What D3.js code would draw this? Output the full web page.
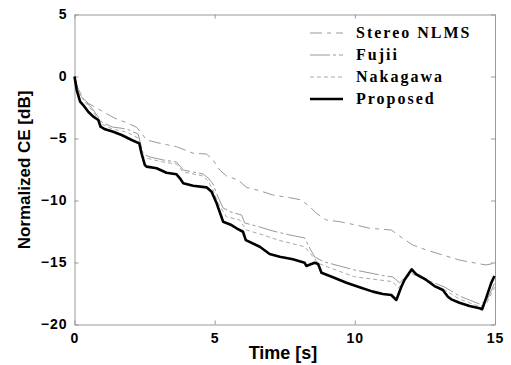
<!DOCTYPE html>
<html>
<head>
<meta charset="utf-8">
<script src="https://cdn.jsdelivr.net/npm/d3@7"></script>
<style>
html,body{margin:0;padding:0;background:#fff;}
svg{display:block;}
</style>
</head>
<body>
<svg id="chart" width="511" height="365"></svg>
<script>
// ---- data ----
const seriesNames = ["Stereo NLMS", "Fujii", "Nakagawa", "Proposed"];
const xTicks = [0, 5, 10, 15];
const yTicks = [-20, -15, -10, -5, 0, 5];

const stereoT = [0,0.14,0.49,0.91,1.44,1.86,2.22,2.39,2.57,3.05,3.64,4.23,4.71,4.94,5.18,5.42,5.84,6.13,6.61,7.08,7.68,8.09,8.39,8.63,8.98,9.46,10.05,10.53,11.30,11.71,12.07,12.55,13.26,13.73,14.33,14.68,14.98];
const stereoV = [0,-1.35,-2.16,-2.70,-3.37,-3.73,-4.10,-4.58,-5.12,-5.39,-5.66,-6.19,-6.25,-6.73,-7.54,-8.02,-8.35,-8.94,-9.21,-9.56,-9.77,-9.96,-10.5,-11.03,-11.57,-11.71,-11.98,-12.24,-12.38,-13.05,-13.59,-13.99,-14.48,-14.8,-15.06,-15.2,-15.06];

const fujiiT = [0,0.12,0.34,0.62,0.97,1.34,1.86,2.27,2.45,2.69,3.16,3.64,3.88,4.23,4.59,4.77,4.94,5.12,5.30,5.54,5.96,6.07,6.61,7.08,7.68,8.21,8.39,8.57,8.92,9.99,11.0,11.36,11.6,11.89,12.07,12.66,13.2,13.73,14.45,14.7,14.98];
const fujiiV = [0,-0.93,-1.90,-2.54,-3.67,-4.07,-4.23,-4.64,-6.25,-6.49,-6.73,-6.90,-7.54,-7.70,-7.86,-8.19,-8.67,-9.72,-10.6,-10.9,-11.17,-11.81,-12.14,-12.46,-12.78,-13.02,-13.83,-14.56,-14.96,-15.6,-16.05,-16.17,-16.65,-15.93,-15.69,-16.49,-16.98,-17.7,-18.35,-18.1,-16.7];

const nakaT = [0,0.12,0.34,0.62,0.97,1.34,1.86,2.27,2.45,2.69,3.16,3.64,3.88,4.23,4.59,4.77,4.94,5.12,5.42,5.89,6.13,6.73,7.26,8.21,8.51,8.69,9.16,9.99,11.36,11.54,11.84,12.01,12.66,13.2,13.73,14.45,14.7,14.98];
const nakaV = [0,-1.09,-1.98,-2.70,-3.83,-4.23,-4.48,-4.96,-6.49,-6.65,-6.9,-7.06,-7.70,-7.86,-8.02,-8.43,-9.15,-10.2,-11.31,-11.57,-12.38,-12.78,-13.19,-13.73,-14.53,-15.06,-15.47,-16.15,-16.55,-17.08,-16.27,-15.87,-16.6,-17.2,-17.95,-18.55,-18.3,-17.0];

const propT = [0,0.08,0.2,0.31,0.49,0.67,0.85,0.93,1.09,1.38,1.68,2.04,2.31,2.39,2.51,2.57,2.93,3.28,3.64,3.76,3.88,4.23,4.71,4.89,5.07,5.24,5.30,5.60,5.78,6.01,6.11,6.61,6.96,7.32,7.79,8.21,8.27,8.45,8.57,8.69,8.81,9.22,9.70,10.17,10.64,11.0,11.30,11.48,11.66,11.77,11.89,12.03,12.19,12.55,12.84,13.14,13.32,13.44,13.73,14.09,14.45,14.54,14.68,14.86,14.98];
const propV = [0,-1.09,-2.03,-2.3,-2.84,-3.24,-3.51,-4.05,-4.26,-4.45,-4.72,-5.12,-5.39,-6.19,-7.14,-7.27,-7.40,-7.76,-7.89,-8.21,-8.61,-8.81,-8.94,-9.29,-10.23,-11.31,-11.71,-11.98,-12.24,-12.52,-13.19,-13.73,-14.31,-14.53,-14.74,-15.02,-15.28,-15.12,-15.02,-15.12,-15.82,-16.19,-16.63,-17.0,-17.35,-17.54,-17.62,-18.02,-16.95,-16.41,-16.01,-15.55,-15.95,-16.41,-16.9,-17.22,-17.76,-17.97,-18.24,-18.51,-18.69,-18.77,-17.89,-16.68,-16.09];

// ---- chart ----
const svg = d3.select("#chart");
const x = d3.scaleLinear().domain([0, 15]).range([74.5, 495]);
const y = d3.scaleLinear().domain([-20, 5]).range([324.5, 14.5]);
const frameColor = "#999";

const tickFont = g => g.selectAll("text")
  .attr("font-family", "'Liberation Sans', Arial, sans-serif")
  .attr("font-weight", "bold")
  .attr("font-size", 14)
  .attr("letter-spacing", 1)
  .attr("fill", "#000");
const styleAxis = g => {
  g.select(".domain").attr("stroke", frameColor);
  g.selectAll(".tick line").attr("stroke", frameColor);
};

svg.append("g").attr("transform", "translate(0,324.5)")
  .call(d3.axisBottom(x).tickValues(xTicks).tickSize(-4).tickSizeOuter(0).tickPadding(9))
  .call(styleAxis).call(tickFont);
svg.append("g").attr("transform", "translate(74.5,0)")
  .call(d3.axisLeft(y).tickValues(yTicks).tickSize(-4).tickSizeOuter(0).tickPadding(7))
  .call(styleAxis).call(tickFont);
svg.append("g").attr("transform", "translate(0,14.5)")
  .call(d3.axisTop(x).tickValues(xTicks).tickSize(-4).tickSizeOuter(0).tickFormat(""))
  .call(styleAxis);
svg.append("g").attr("transform", "translate(495,0)")
  .call(d3.axisRight(y).tickValues(yTicks).tickSize(-4).tickSizeOuter(0).tickFormat(""))
  .call(styleAxis);

// axis titles
svg.append("text").attr("x", 283).attr("y", 359).attr("text-anchor", "middle")
  .attr("font-family", "'Liberation Sans', Arial, sans-serif").attr("font-weight", "bold")
  .attr("font-size", 18).text("Time [s]");
svg.append("text").attr("transform", "translate(30,170) rotate(-90)").attr("text-anchor", "middle")
  .attr("font-family", "'Liberation Sans', Arial, sans-serif").attr("font-weight", "bold")
  .attr("font-size", 17).text("Normalized CE [dB]");

const styles = [
  {t: stereoT, v: stereoV, color: "#999", width: 1, dash: "12,5,4,5"},
  {t: fujiiT, v: fujiiV, color: "#999", width: 1, dash: "20,3,3,3"},
  {t: nakaT, v: nakaV, color: "#aaa", width: 1, dash: "4,3"},
  {t: propT, v: propV, color: "#000", width: 2.6, dash: null}
];

const line = d3.line().x(d => x(d[0])).y(d => y(d[1]));
styles.forEach(s => {
  const pts = s.t.map((t, i) => [t, s.v[i]]);
  svg.append("path").datum(pts).attr("d", line)
    .attr("fill", "none").attr("stroke", s.color).attr("stroke-width", s.width)
    .attr("stroke-linejoin", "round")
    .attr("stroke-dasharray", s.dash);
});

// legend
const leg = svg.append("g");
seriesNames.forEach((name, i) => {
  const s = styles[i];
  const ly = 33 + i * 22;
  leg.append("line").attr("x1", 310).attr("x2", 343).attr("y1", ly).attr("y2", ly)
    .attr("stroke", s.color).attr("stroke-width", s.width).attr("stroke-dasharray", s.dash);
  leg.append("text").attr("x", 356).attr("y", ly + 5)
    .attr("font-family", "'Liberation Serif', 'Times New Roman', serif").attr("font-weight", "bold")
    .attr("font-size", 16).attr("letter-spacing", 2).text(name);
});
</script>
</body>
</html>
